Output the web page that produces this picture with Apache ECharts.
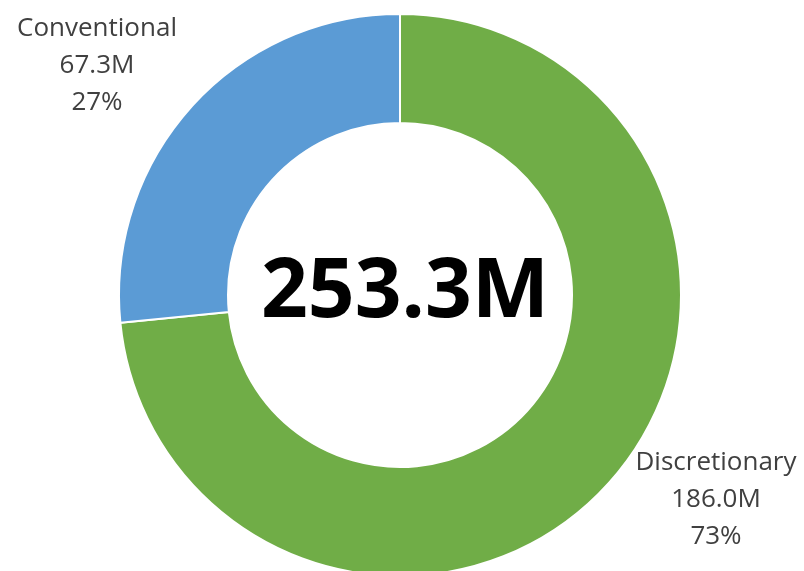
<!DOCTYPE html>
<html>
<head>
<meta charset="utf-8">
<script src="https://cdn.jsdelivr.net/npm/echarts@6/dist/echarts.min.js"></script>
<style>
  html, body { margin: 0; padding: 0; background: #fff; }
  #main { width: 804px; height: 571px; }
</style>
</head>
<body>
<div id="main"></div>
<script>
// data
const categories = ['Discretionary', 'Conventional']
const values = [186.0, 67.3]
const totalLabel = '253.3M'
const colors = ['#70ad47', '#5b9bd5']

// where each slice's label sits (x, y of the text block centre)
const labelSpots = [[716, 500], [97, 66]]

const chart = echarts.init(document.getElementById('main'))
chart.setOption({
  animation: false,
  title: {
    text: totalLabel,
    left: 400,
    top: 289,
    textAlign: 'center',
    textVerticalAlign: 'middle',
    textStyle: {
      fontFamily: 'Open Sans',
      fontWeight: 'bold',
      fontSize: 82,
      color: '#000'
    }
  },
  series: [
    {
      type: 'pie',
      center: [400, 295],
      radius: [172, 281],
      startAngle: 90,
      clockwise: true,
      percentPrecision: 0,
      itemStyle: {
        borderColor: '#fff',
        borderWidth: 2
      },
      label: {
        show: true,
        position: 'outside',
        fontFamily: 'Open Sans',
        fontSize: 26,
        lineHeight: 37,
        color: '#404040',
        align: 'center',
        overflow: 'none',
        width: 220,
        formatter: p => p.name + '\n' + p.value.toFixed(1) + 'M\n' + p.percent + '%'
      },
      labelLine: { show: false },
      labelLayout: p => ({
        x: labelSpots[p.dataIndex][0],
        y: labelSpots[p.dataIndex][1],
        align: 'center',
        verticalAlign: 'middle'
      }),
      data: categories.map((c, i) => ({
        name: c,
        value: values[i],
        itemStyle: { color: colors[i] }
      }))
    }
  ]
})
</script>
</body>
</html>
